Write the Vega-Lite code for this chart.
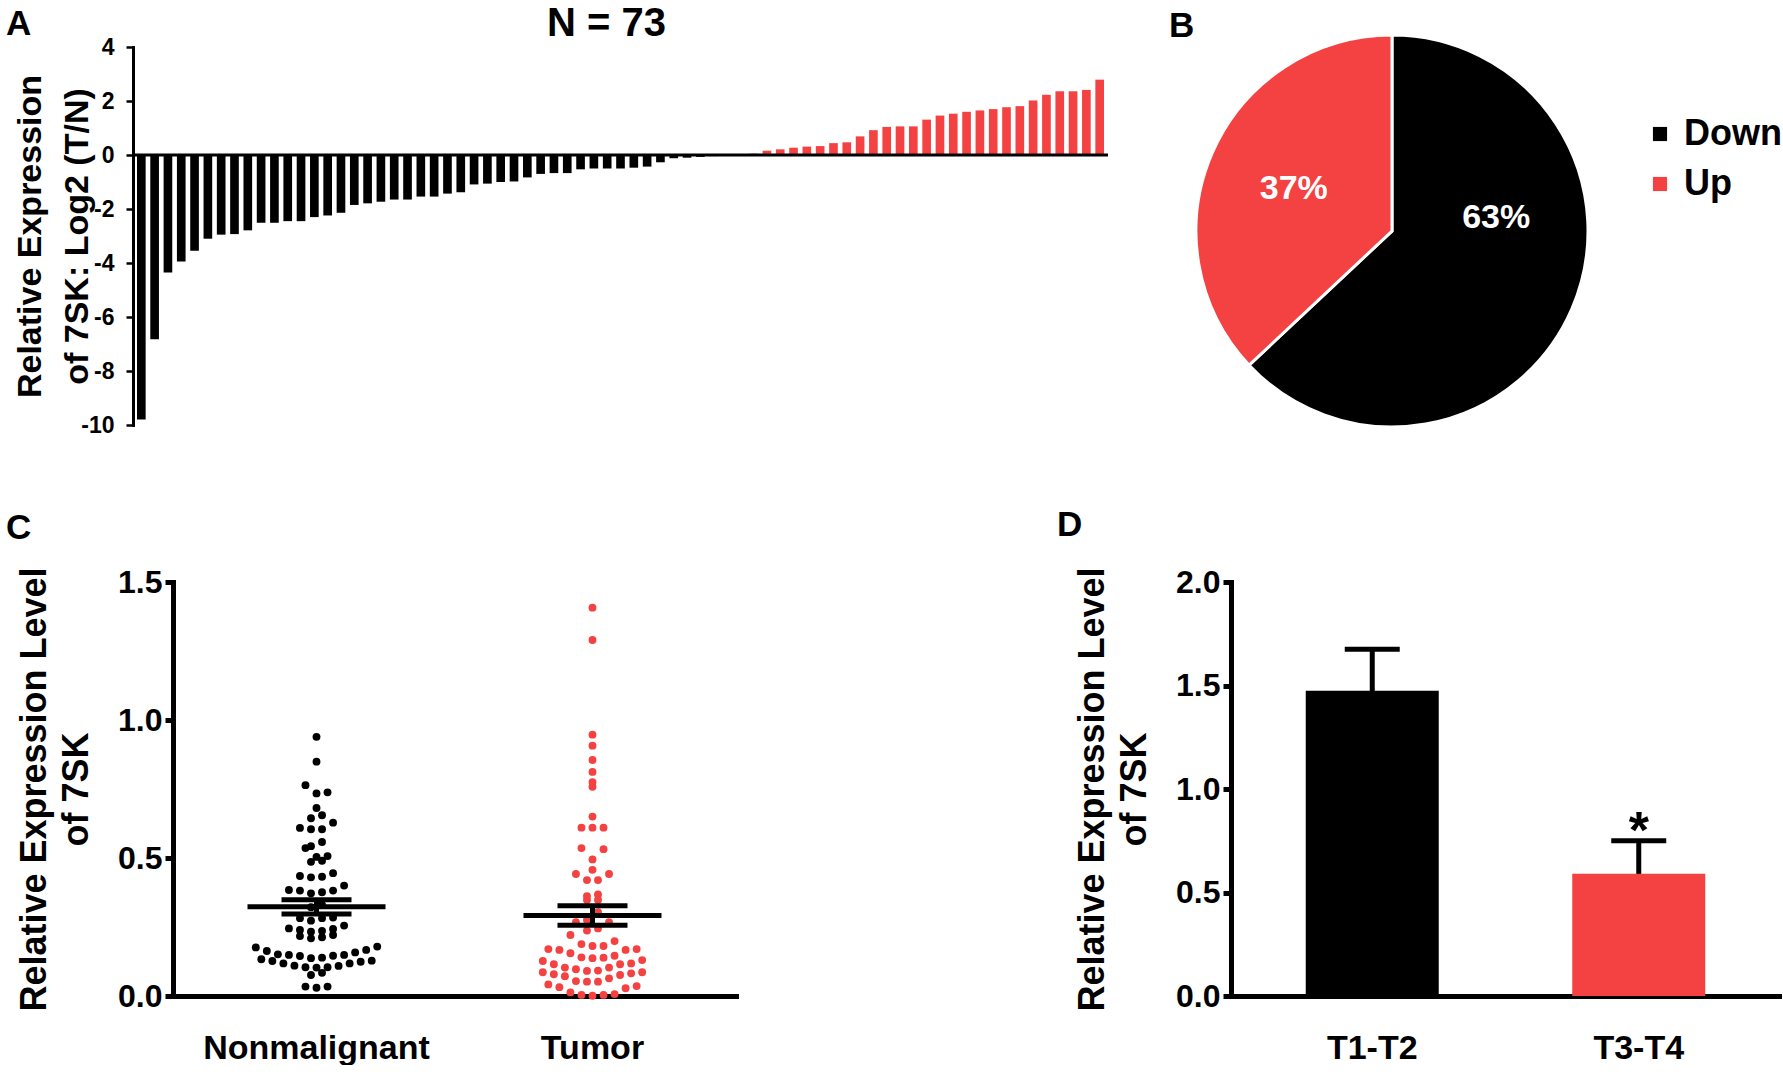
{
  "$schema": "https://vega.github.io/schema/vega-lite/v6.json",
  "padding": {"left": 6, "top": 3, "right": 0, "bottom": 0},
  "background": "white",
  "config": {
    "view": {"stroke": null},
    "font": "Liberation Sans",
    "axis": {"labelFont": "Liberation Sans", "titleFont": "Liberation Sans", "labelFontWeight": "bold", "titleFontWeight": "bold", "labelColor": "black", "titleColor": "black", "domainColor": "black", "tickColor": "black", "grid": false, "domainCap": "square", "labelLimit": 0},
    "title": {"font": "Liberation Sans", "fontWeight": "bold", "color": "black", "fontSize": 35, "offset": 0},
    "text": {"font": "Liberation Sans"}
  },
  "datasets": {
    "bars": [
      {"sample": 1, "log2": -9.8}, {"sample": 2, "log2": -6.82}, {"sample": 3, "log2": -4.35}, {"sample": 4, "log2": -3.94}, {"sample": 5, "log2": -3.55},
      {"sample": 6, "log2": -3.1}, {"sample": 7, "log2": -2.95}, {"sample": 8, "log2": -2.93}, {"sample": 9, "log2": -2.79}, {"sample": 10, "log2": -2.51},
      {"sample": 11, "log2": -2.51}, {"sample": 12, "log2": -2.45}, {"sample": 13, "log2": -2.45}, {"sample": 14, "log2": -2.3}, {"sample": 15, "log2": -2.24},
      {"sample": 16, "log2": -2.14}, {"sample": 17, "log2": -1.85}, {"sample": 18, "log2": -1.79}, {"sample": 19, "log2": -1.73}, {"sample": 20, "log2": -1.65},
      {"sample": 21, "log2": -1.65}, {"sample": 22, "log2": -1.54}, {"sample": 23, "log2": -1.54}, {"sample": 24, "log2": -1.43}, {"sample": 25, "log2": -1.38},
      {"sample": 26, "log2": -1.09}, {"sample": 27, "log2": -1.06}, {"sample": 28, "log2": -1.0}, {"sample": 29, "log2": -0.98}, {"sample": 30, "log2": -0.83},
      {"sample": 31, "log2": -0.7}, {"sample": 32, "log2": -0.67}, {"sample": 33, "log2": -0.67}, {"sample": 34, "log2": -0.53}, {"sample": 35, "log2": -0.5},
      {"sample": 36, "log2": -0.5}, {"sample": 37, "log2": -0.5}, {"sample": 38, "log2": -0.47}, {"sample": 39, "log2": -0.43}, {"sample": 40, "log2": -0.27},
      {"sample": 41, "log2": -0.12}, {"sample": 42, "log2": -0.1}, {"sample": 43, "log2": -0.07}, {"sample": 44, "log2": -0.04}, {"sample": 45, "log2": -0.02},
      {"sample": 46, "log2": -0.01}, {"sample": 47, "log2": 0.05}, {"sample": 48, "log2": 0.16}, {"sample": 49, "log2": 0.21}, {"sample": 50, "log2": 0.27},
      {"sample": 51, "log2": 0.31}, {"sample": 52, "log2": 0.33}, {"sample": 53, "log2": 0.44}, {"sample": 54, "log2": 0.47}, {"sample": 55, "log2": 0.69},
      {"sample": 56, "log2": 0.92}, {"sample": 57, "log2": 1.04}, {"sample": 58, "log2": 1.06}, {"sample": 59, "log2": 1.06}, {"sample": 60, "log2": 1.31},
      {"sample": 61, "log2": 1.46}, {"sample": 62, "log2": 1.53}, {"sample": 63, "log2": 1.6}, {"sample": 64, "log2": 1.65}, {"sample": 65, "log2": 1.7},
      {"sample": 66, "log2": 1.77}, {"sample": 67, "log2": 1.81}, {"sample": 68, "log2": 2.02}, {"sample": 69, "log2": 2.23}, {"sample": 70, "log2": 2.36},
      {"sample": 71, "log2": 2.36}, {"sample": 72, "log2": 2.41}, {"sample": 73, "log2": 2.79}
    ],
    "pie": [
      {"direction": "Down", "share": 0.63},
      {"direction": "Up", "share": 0.37}
    ],
    "scatter": [
      {"group": "Nonmalignant", "value": 0.939}, {"group": "Nonmalignant", "value": 0.849}, {"group": "Nonmalignant", "value": 0.764}, {"group": "Nonmalignant", "value": 0.738},
      {"group": "Nonmalignant", "value": 0.734}, {"group": "Nonmalignant", "value": 0.681}, {"group": "Nonmalignant", "value": 0.655}, {"group": "Nonmalignant", "value": 0.644},
      {"group": "Nonmalignant", "value": 0.628}, {"group": "Nonmalignant", "value": 0.604}, {"group": "Nonmalignant", "value": 0.604}, {"group": "Nonmalignant", "value": 0.609},
      {"group": "Nonmalignant", "value": 0.558}, {"group": "Nonmalignant", "value": 0.536}, {"group": "Nonmalignant", "value": 0.543}, {"group": "Nonmalignant", "value": 0.507},
      {"group": "Nonmalignant", "value": 0.49}, {"group": "Nonmalignant", "value": 0.486}, {"group": "Nonmalignant", "value": 0.504}, {"group": "Nonmalignant", "value": 0.435},
      {"group": "Nonmalignant", "value": 0.43}, {"group": "Nonmalignant", "value": 0.432}, {"group": "Nonmalignant", "value": 0.445}, {"group": "Nonmalignant", "value": 0.4},
      {"group": "Nonmalignant", "value": 0.382}, {"group": "Nonmalignant", "value": 0.376}, {"group": "Nonmalignant", "value": 0.372}, {"group": "Nonmalignant", "value": 0.382},
      {"group": "Nonmalignant", "value": 0.384}, {"group": "Nonmalignant", "value": 0.33}, {"group": "Nonmalignant", "value": 0.322}, {"group": "Nonmalignant", "value": 0.282},
      {"group": "Nonmalignant", "value": 0.273}, {"group": "Nonmalignant", "value": 0.282}, {"group": "Nonmalignant", "value": 0.284}, {"group": "Nonmalignant", "value": 0.255},
      {"group": "Nonmalignant", "value": 0.245}, {"group": "Nonmalignant", "value": 0.239}, {"group": "Nonmalignant", "value": 0.233}, {"group": "Nonmalignant", "value": 0.217},
      {"group": "Nonmalignant", "value": 0.209}, {"group": "Nonmalignant", "value": 0.213}, {"group": "Nonmalignant", "value": 0.221}, {"group": "Nonmalignant", "value": 0.236},
      {"group": "Nonmalignant", "value": 0.243}, {"group": "Nonmalignant", "value": 0.179}, {"group": "Nonmalignant", "value": 0.167}, {"group": "Nonmalignant", "value": 0.163},
      {"group": "Nonmalignant", "value": 0.176}, {"group": "Nonmalignant", "value": 0.158}, {"group": "Nonmalignant", "value": 0.149}, {"group": "Nonmalignant", "value": 0.145},
      {"group": "Nonmalignant", "value": 0.139}, {"group": "Nonmalignant", "value": 0.133}, {"group": "Nonmalignant", "value": 0.127}, {"group": "Nonmalignant", "value": 0.118},
      {"group": "Nonmalignant", "value": 0.124}, {"group": "Nonmalignant", "value": 0.128}, {"group": "Nonmalignant", "value": 0.137}, {"group": "Nonmalignant", "value": 0.146},
      {"group": "Nonmalignant", "value": 0.149}, {"group": "Nonmalignant", "value": 0.151}, {"group": "Nonmalignant", "value": 0.118}, {"group": "Nonmalignant", "value": 0.109},
      {"group": "Nonmalignant", "value": 0.104}, {"group": "Nonmalignant", "value": 0.103}, {"group": "Nonmalignant", "value": 0.104}, {"group": "Nonmalignant", "value": 0.11},
      {"group": "Nonmalignant", "value": 0.084}, {"group": "Nonmalignant", "value": 0.076}, {"group": "Nonmalignant", "value": 0.034}, {"group": "Nonmalignant", "value": 0.03},
      {"group": "Nonmalignant", "value": 0.034},
      {"group": "Tumor", "value": 1.407}, {"group": "Tumor", "value": 1.29}, {"group": "Tumor", "value": 0.947}, {"group": "Tumor", "value": 0.907},
      {"group": "Tumor", "value": 0.855}, {"group": "Tumor", "value": 0.812}, {"group": "Tumor", "value": 0.775}, {"group": "Tumor", "value": 0.758},
      {"group": "Tumor", "value": 0.65}, {"group": "Tumor", "value": 0.61}, {"group": "Tumor", "value": 0.61}, {"group": "Tumor", "value": 0.61},
      {"group": "Tumor", "value": 0.532}, {"group": "Tumor", "value": 0.536}, {"group": "Tumor", "value": 0.495}, {"group": "Tumor", "value": 0.457},
      {"group": "Tumor", "value": 0.442}, {"group": "Tumor", "value": 0.42}, {"group": "Tumor", "value": 0.42}, {"group": "Tumor", "value": 0.442},
      {"group": "Tumor", "value": 0.368}, {"group": "Tumor", "value": 0.362}, {"group": "Tumor", "value": 0.348}, {"group": "Tumor", "value": 0.348},
      {"group": "Tumor", "value": 0.304}, {"group": "Tumor", "value": 0.267}, {"group": "Tumor", "value": 0.267}, {"group": "Tumor", "value": 0.275},
      {"group": "Tumor", "value": 0.245}, {"group": "Tumor", "value": 0.237}, {"group": "Tumor", "value": 0.221}, {"group": "Tumor", "value": 0.188},
      {"group": "Tumor", "value": 0.181}, {"group": "Tumor", "value": 0.181}, {"group": "Tumor", "value": 0.199}, {"group": "Tumor", "value": 0.17},
      {"group": "Tumor", "value": 0.167}, {"group": "Tumor", "value": 0.155}, {"group": "Tumor", "value": 0.14}, {"group": "Tumor", "value": 0.139},
      {"group": "Tumor", "value": 0.146}, {"group": "Tumor", "value": 0.167}, {"group": "Tumor", "value": 0.17}, {"group": "Tumor", "value": 0.137},
      {"group": "Tumor", "value": 0.127}, {"group": "Tumor", "value": 0.115}, {"group": "Tumor", "value": 0.103}, {"group": "Tumor", "value": 0.097},
      {"group": "Tumor", "value": 0.103}, {"group": "Tumor", "value": 0.115}, {"group": "Tumor", "value": 0.118}, {"group": "Tumor", "value": 0.13},
      {"group": "Tumor", "value": 0.092}, {"group": "Tumor", "value": 0.086}, {"group": "Tumor", "value": 0.082}, {"group": "Tumor", "value": 0.076},
      {"group": "Tumor", "value": 0.064}, {"group": "Tumor", "value": 0.052}, {"group": "Tumor", "value": 0.052}, {"group": "Tumor", "value": 0.054},
      {"group": "Tumor", "value": 0.072}, {"group": "Tumor", "value": 0.079}, {"group": "Tumor", "value": 0.086}, {"group": "Tumor", "value": 0.091},
      {"group": "Tumor", "value": 0.042}, {"group": "Tumor", "value": 0.032}, {"group": "Tumor", "value": 0.028}, {"group": "Tumor", "value": 0.036},
      {"group": "Tumor", "value": 0.013}, {"group": "Tumor", "value": 0.004}, {"group": "Tumor", "value": 0.001}, {"group": "Tumor", "value": 0.004},
      {"group": "Tumor", "value": 0.007}
    ],
    "stage": [
      {"stage": "T1-T2", "mean": 1.475, "sem": 0.2},
      {"stage": "T3-T4", "mean": 0.59, "sem": 0.16}
    ]
  },
  "bounds": "flush",
  "vconcat": [
    {
      "bounds": "flush",
      "spacing": 0,
      "hconcat": [
        {
          "title": {"text": "A", "anchor": "start", "frame": "group", "dx": -127, "dy": 42},
          "width": 975,
          "height": 378,
          "layer": [
            {
              "data": {"name": "bars"},
              "mark": {"type": "bar", "width": 8.65},
              "encoding": {
                "x": {"field": "sample", "type": "ordinal", "axis": null, "scale": {"type": "band", "paddingInner": 0.35, "paddingOuter": 0.3}},
                "y": {"field": "log2", "type": "quantitative", "scale": {"domain": [-10, 4], "nice": false},
                  "axis": {"values": [-10, -8, -6, -4, -2, 0, 2, 4], "labelFontSize": 23, "labelExpr": "replace(datum.label, '\u2212', '-')", "tickSize": 7, "tickWidth": 2.5, "domainWidth": 3, "labelPadding": 12,
                    "title": ["Relative Expression", "of 7SK: Log2 (T/N)"], "titleFontSize": 34, "titleLineHeight": 47, "titlePadding": -14}},
                "color": {"condition": {"test": "datum.log2 < 0", "value": "#000000"}, "value": "#f44242"}
              }
            },
            {
              "data": {"values": [{}]},
              "mark": {"type": "rule", "strokeWidth": 3, "color": "black"},
              "encoding": {"y": {"datum": 0}}
            },
            {
              "data": {"values": [{}]},
              "mark": {"type": "text", "text": "N = 73", "fontSize": 40, "fontWeight": "bold", "baseline": "middle", "align": "center", "dx": -14, "color": "black"},
              "encoding": {"y": {"datum": 4.87}}
            }
          ]
        },
        {
          "width": 88,
          "height": 10,
          "data": {"values": []},
          "mark": {"type": "point", "opacity": 0}
        },
        {
          "title": {"text": "B", "anchor": "start", "frame": "group", "dx": -27, "dy": 19},
          "width": 392,
          "height": 368,
          "data": {"name": "pie"},
          "encoding": {
            "theta": {"field": "share", "type": "quantitative", "stack": true},
            "order": {"field": "direction", "sort": "ascending"}
          },
          "layer": [
            {
              "mark": {"type": "arc", "outerRadius": 196, "stroke": "white", "strokeWidth": 3},
              "encoding": {
                "color": {"field": "direction", "type": "nominal", "scale": {"domain": ["Down", "Up"], "range": ["#000000", "#f44242"]},
                  "legend": {"orient": "none", "legendX": 446, "legendY": 69, "title": null, "symbolType": "square", "symbolSize": 200, "symbolStrokeWidth": 0,
                    "labelFontSize": 36, "labelFont": "Liberation Sans", "labelFontWeight": "bold", "labelColor": "black", "rowPadding": 14, "labelOffset": 6}}
              }
            },
            {
              "mark": {"type": "text", "radius": 107, "fontSize": 34, "fontWeight": "bold", "color": "white"},
              "encoding": {
                "detail": {"field": "direction"},
                "text": {"condition": {"test": "datum.direction === 'Up'", "field": "share", "type": "quantitative", "format": ".0%"}, "value": ""}
              }
            },
            {
              "mark": {"type": "text", "radius": 105, "thetaOffset": -0.53, "fontSize": 34, "fontWeight": "bold", "color": "white"},
              "encoding": {
                "detail": {"field": "direction"},
                "text": {"condition": {"test": "datum.direction === 'Down'", "field": "share", "type": "quantitative", "format": ".0%"}, "value": ""}
              }
            }
          ]
        }
      ],
      "resolve": {"scale": {"color": "independent"}, "legend": {"color": "independent"}}
    },
    {
      "bounds": "flush",
      "spacing": 0,
      "hconcat": [
        {
          "width": 40,
          "height": 10,
          "data": {"values": []},
          "mark": {"type": "point", "opacity": 0}
        },
        {
          "title": {"text": "C", "anchor": "start", "frame": "group", "dx": -167, "offset": 14, "dy": -6},
          "width": 563,
          "height": 414,
          "data": {"name": "scatter"},
          "encoding": {
            "x": {"field": "group", "type": "nominal", "sort": ["Nonmalignant", "Tumor"], "scale": {"type": "band", "paddingInner": 0, "paddingOuter": 0.02},
              "axis": {"labelFontSize": 34, "labelPadding": 35, "ticks": false, "domainWidth": 5, "title": null, "labelAngle": 0}},
            "y": {"field": "value", "type": "quantitative", "scale": {"domain": [0, 1.5], "nice": false},
              "axis": {"values": [0, 0.5, 1, 1.5], "format": ".1f", "labelFontSize": 32, "tickSize": 8, "tickWidth": 5, "domainWidth": 5, "labelPadding": 3,
                "title": ["Relative Expression Level", "of 7SK"], "titleFontSize": 36, "titleLineHeight": 42, "titlePadding": 22}}
          },
          "layer": [
            {
              "transform": [
                {"bin": {"step": 0.045, "extent": [0, 1.8], "nice": false}, "field": "value", "as": "vbin"},
                {"window": [{"op": "row_number", "as": "rank"}, {"op": "count", "as": "n"}], "groupby": ["group", "vbin"], "sort": [{"field": "value"}], "frame": [null, null]},
                {"calculate": "(datum.rank % 2 == 0 ? datum.rank / 2 : -(datum.rank - 1) / 2) - (datum.n % 2 == 0 ? 0.5 : 0)", "as": "slot"}
              ],
              "mark": {"type": "circle", "size": 62, "opacity": 1},
              "encoding": {
                "xOffset": {"field": "slot", "type": "quantitative", "scale": {"domain": [-12.5, 12.5]}},
                "color": {"condition": {"test": "datum.group === 'Tumor'", "value": "#f44242"}, "value": "#000000"}
              }
            },
            {
              "mark": {"type": "errorbar", "extent": "stderr", "color": "black", "opacity": 1, "ticks": {"size": 70, "thickness": 5, "color": "black", "opacity": 1}, "rule": {"strokeWidth": 5, "color": "black", "opacity": 1}}
            },
            {
              "mark": {"type": "tick", "size": 138, "thickness": 5, "color": "black", "opacity": 1},
              "encoding": {
                "y": {"aggregate": "mean", "field": "value", "type": "quantitative"}
              }
            },
            {
              "transform": [
                {"filter": "datum.group === 'Tumor'"},
                {"aggregate": [{"op": "count", "as": "n"}], "groupby": ["group"]}
              ],
              "mark": {"type": "text", "text": "*", "fontSize": 52, "fontWeight": "bold", "baseline": "alphabetic", "color": "black"},
              "encoding": {"y": {"datum": 1.445}}
            }
          ]
        },
        {
          "width": 495,
          "height": 10,
          "data": {"values": []},
          "mark": {"type": "point", "opacity": 0}
        },
        {
          "title": {"text": "D", "anchor": "start", "frame": "group", "dx": -174, "offset": 20, "dy": -3},
          "width": 549,
          "height": 414,
          "data": {"name": "stage"},
          "encoding": {
            "x": {"field": "stage", "type": "nominal", "scale": {"type": "band", "paddingInner": 0.5, "paddingOuter": 0.28},
              "axis": {"labelFontSize": 34, "labelPadding": 35, "ticks": false, "domainWidth": 5, "title": null, "labelAngle": 0}},
            "y": {"field": "mean", "type": "quantitative", "scale": {"domain": [0, 2], "nice": false},
              "axis": {"values": [0, 0.5, 1, 1.5, 2], "format": ".1f", "labelFontSize": 32, "tickSize": 8, "tickWidth": 5, "domainWidth": 5, "labelPadding": 3,
                "title": ["Relative Expression Level", "of 7SK"], "titleFontSize": 36, "titleLineHeight": 42, "titlePadding": 22}}
          },
          "layer": [
            {
              "mark": {"type": "errorbar", "color": "black", "opacity": 1, "ticks": {"size": 55, "thickness": 5, "color": "black", "opacity": 1}, "rule": {"strokeWidth": 5, "color": "black", "opacity": 1}},
              "encoding": {"yError": {"field": "sem"}}
            },
            {
              "mark": {"type": "bar", "width": 133},
              "encoding": {"color": {"condition": {"test": "datum.stage === 'T3-T4'", "value": "#f44242"}, "value": "#000000"}}
            },
            {
              "transform": [{"filter": "datum.stage === 'T3-T4'"}],
              "mark": {"type": "text", "text": "*", "fontSize": 52, "fontWeight": "bold", "baseline": "alphabetic", "color": "black"},
              "encoding": {"y": {"datum": 0.715}}
            }
          ]
        }
      ]
    }
  ],
  "spacing": 535
}
